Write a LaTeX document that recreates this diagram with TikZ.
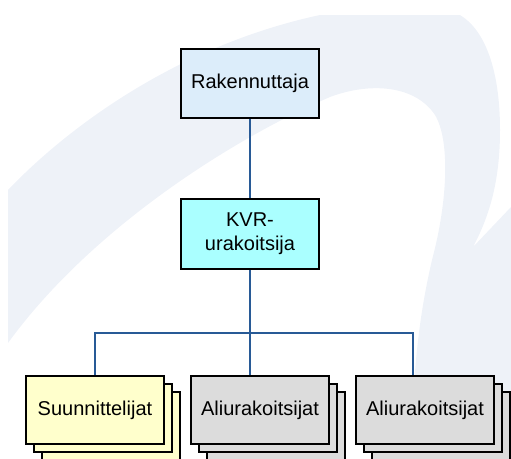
\documentclass[tikz,border=0pt]{standalone}
\usepackage{fontspec}
\setmainfont{Liberation Sans}
\usepackage{xcolor}
\usetikzlibrary{shadows}

\definecolor{swoosh}{RGB}{238,242,248}
\definecolor{ownerblue}{RGB}{220,237,250}
\definecolor{kvrcyan}{RGB}{170,255,255}
\definecolor{designyellow}{RGB}{255,255,204}
\definecolor{subgrey}{RGB}{220,220,220}
\definecolor{linkblue}{RGB}{40,90,150}

\begin{document}
\begin{tikzpicture}[x=1pt,y=-1pt]
			\tikzstyle{party} = [draw=black, line width=2pt, minimum width=138pt, minimum height=69pt, font=\fontsize{20}{24}\selectfont, align=center, inner sep=0pt]
			\tikzstyle{group} = [party, minimum height=68pt, double copy shadow={shadow xshift=8pt, shadow yshift=-8pt}]
			\tikzset{edge/.style = {draw=linkblue, line width=2pt}}
			
			\useasboundingbox (0,0) rectangle (511,458);
			\fill[swoosh] (8,190) .. controls (70,125) and (180,45) .. (320,15) -- (460,15) .. controls (485,30) and (500,70) .. (500,130) .. controls (500,180) and (490,215) .. (473,247) -- (511,207) -- (511,458) -- (412,458) .. controls (412,380) and (418,320) .. (432,260) .. controls (448,200) and (450,140) .. (435,115) .. controls (415,85) and (370,82) .. (330,97) .. controls (230,140) and (90,230) .. (8,343) -- cycle;
			
			\node[party, fill=ownerblue](owner) at (250,83.5) {Rakennuttaja};
			\node[party, fill=kvrcyan, minimum height=70pt](kvr) at (250,234) {KVR-\\urakoitsija};
			\draw[edge](owner) to (kvr);
			
			\node[group, fill=designyellow](designers) at (95,410) {Suunnittelijat};
			\node[group, fill=subgrey](subs1) at (260,410) {Aliurakoitsijat};
			\node[group, fill=subgrey](subs2) at (425,410) {Aliurakoitsijat};
			
			\coordinate (bus) at (250,333);
			\draw[edge](kvr.south) to (kvr.south |- subs1.north);
			\draw[edge](designers.north) |- (bus) -| ([xshift=-12pt]subs2.north);
			
			\end{tikzpicture}
\end{document}
